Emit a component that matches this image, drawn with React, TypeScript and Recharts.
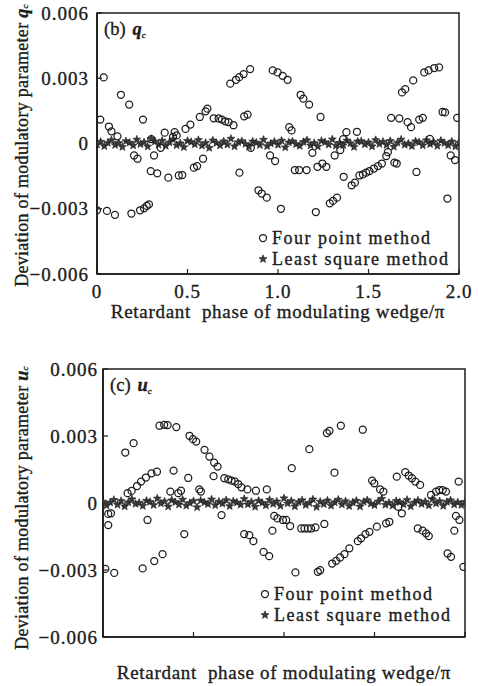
import React from "react";
import { ScatterChart, Scatter, XAxis, YAxis, ReferenceArea } from "recharts";

const FONT = '"Liberation Serif", "Times New Roman", Times, serif';
const INK = "#1c1c1c";

const xTicks = [0, 0.5, 1.0, 1.5, 2.0];
const yTicks = [-0.006, -0.003, 0, 0.003, 0.006];
const xTitle = "Retardant  phase of modulating wedge/\u03c0";
const yTitle = "Deviation of modulatory parameter ";
const legendNames = ["Four point method", "Least square method"];

// (b) q_c, four point method
const qFourX = [0.0, 0.018, 0.037, 0.055, 0.066, 0.08, 0.099, 0.113, 0.132, 0.178, 0.19, 0.205, 0.224, 0.238, 0.254, 0.26, 0.275, 0.287, 0.297, 0.3, 0.315, 0.333, 0.352, 0.374, 0.394, 0.42, 0.429, 0.44, 0.452, 0.471, 0.489, 0.516, 0.535, 0.553, 0.568, 0.586, 0.6, 0.61, 0.645, 0.672, 0.69, 0.709, 0.727, 0.736, 0.754, 0.768, 0.786, 0.787, 0.81, 0.813, 0.832, 0.846, 0.85, 0.892, 0.91, 0.938, 0.956, 0.971, 0.984, 0.998, 1.016, 1.026, 1.053, 1.062, 1.075, 1.093, 1.117, 1.125, 1.14, 1.158, 1.172, 1.19, 1.209, 1.218, 1.235, 1.245, 1.267, 1.286, 1.304, 1.313, 1.326, 1.344, 1.36, 1.363, 1.378, 1.407, 1.425, 1.436, 1.45, 1.469, 1.487, 1.505, 1.53, 1.552, 1.574, 1.598, 1.607, 1.625, 1.643, 1.656, 1.67, 1.685, 1.703, 1.716, 1.735, 1.747, 1.765, 1.78, 1.8, 1.808, 1.832, 1.839, 1.863, 1.89, 1.909, 1.923, 1.936, 1.954, 1.978, 1.99];
const qFourY = [-0.00307, 0.0011, 0.00304, -0.0031, 0.00078, 0.00056, -0.00328, 0.00033, 0.00224, 0.00179, -0.00322, -0.00055, -0.0007, -0.00307, 0.0011, -0.00298, -0.00287, -0.0028, -0.00127, 0.0002, -0.00055, -0.00137, -0.0002, 0.0005, -0.00157, 0.0003, 0.00052, 0.00037, -0.00147, -0.00145, 0.00067, 0.00087, -0.00111, -0.00104, 0.00122, -0.0007, 0.00148, 0.0016, 0.00116, 0.00115, 0.0011, 0.00102, 0.00098, 0.00275, 0.00084, 0.00293, 0.00305, -0.00134, 0.00319, 0.00125, 0.00133, 0.00342, -0.0002, -0.00215, -0.0023, -0.00249, -0.00055, 0.00336, -0.00081, 0.00327, -0.003, 0.00311, 0.00293, 0.00075, 0.0006, -0.00122, -0.00122, 0.00224, 0.00206, -0.00122, 0.00179, -0.00043, -0.00315, -0.00107, 0.00122, -0.00092, -0.00107, -0.00275, -0.00264, -0.00055, -0.00249, -0.0003, 0.0002, -0.00153, 0.00052, -0.00192, -0.0018, 0.00054, -0.00147, -0.00142, -0.00134, -0.00127, -0.00115, -0.00104, -0.00092, -0.00058, -0.0004, 0.00118, -0.00088, -0.00092, 0.00115, 0.00235, 0.0025, 0.00098, 0.00075, 0.0029, -0.00131, 0.0011, 0.00118, 0.00327, 0.00336, 0.00021, 0.00347, 0.0035, 0.00145, 0.00143, -0.00253, -0.00055, -0.00076, 0.00118];

// (c) u_c, four point method
const uFourX = [0.013, 0.029, 0.029, 0.044, 0.062, 0.123, 0.136, 0.158, 0.169, 0.188, 0.21, 0.219, 0.237, 0.246, 0.268, 0.283, 0.298, 0.312, 0.329, 0.338, 0.357, 0.372, 0.39, 0.405, 0.416, 0.431, 0.449, 0.471, 0.478, 0.497, 0.515, 0.532, 0.541, 0.561, 0.588, 0.611, 0.614, 0.633, 0.655, 0.67, 0.692, 0.71, 0.729, 0.747, 0.765, 0.78, 0.798, 0.808, 0.831, 0.845, 0.887, 0.905, 0.918, 0.936, 0.946, 0.964, 0.994, 1.012, 1.034, 1.043, 1.063, 1.095, 1.113, 1.132, 1.14, 1.15, 1.174, 1.187, 1.2, 1.223, 1.237, 1.251, 1.266, 1.279, 1.288, 1.31, 1.314, 1.334, 1.361, 1.408, 1.426, 1.435, 1.45, 1.472, 1.487, 1.499, 1.513, 1.531, 1.549, 1.564, 1.582, 1.623, 1.632, 1.651, 1.67, 1.689, 1.707, 1.726, 1.739, 1.752, 1.766, 1.785, 1.8, 1.812, 1.84, 1.858, 1.877, 1.895, 1.904, 1.923, 1.941, 1.95, 1.965, 1.969, 1.991];
const uFourY = [-0.00295, -0.00049, -0.00099, -0.00046, -0.00313, 0.00226, 0.00044, 0.00054, 0.00268, 0.00076, 0.00096, -0.00293, 0.00114, -0.00076, 0.00133, -0.0026, 0.0014, 0.00346, -0.00229, 0.0035, 0.00349, 0.00051, 0.00145, 0.0034, 0.00044, 0.00055, -0.00139, 0.00112, 0.00301, 0.00286, 0.00275, 0.00061, 0.00051, 0.00238, 0.00208, 0.0012, 0.00181, 0.00163, -0.00054, 0.00111, 0.00106, 0.001, 0.00096, 0.00085, 0.0007, -0.00139, 0.00061, -0.00144, -0.00171, 0.00055, -0.00219, 0.00061, -0.00238, -0.00124, -0.00058, -0.00069, -0.00076, -0.00076, -0.00103, 0.00156, -0.00311, -0.00114, -0.00114, -0.00114, 0.00241, -0.00114, -0.00109, -0.00308, -0.00301, -0.00094, 0.00313, 0.00323, -0.00271, 0.00136, -0.00259, -0.00244, 0.00346, -0.00229, -0.00203, -0.00171, -0.00158, 0.00328, -0.00139, -0.00129, 0.001, 0.00088, -0.00106, 0.00061, 0.00051, -0.00091, -0.00084, 0.00118, -0.00017, -0.00046, 0.00138, 0.00123, 0.00111, 0.00096, -0.00114, 0.00081, -0.00124, -0.00136, -0.00148, 0.00036, 0.00051, 0.00058, 0.00058, 0.00051, -0.00226, -0.00241, -0.00124, -0.00058, 0.00096, -0.00076, -0.00286];

// least square method, sampled phases (both panels)
const lsqX = [0, 0.02, 0.04, 0.06, 0.08, 0.1, 0.12, 0.14, 0.16, 0.18, 0.2, 0.22, 0.24, 0.26, 0.28, 0.3, 0.32, 0.34, 0.36, 0.38, 0.4, 0.42, 0.44, 0.46, 0.48, 0.5, 0.52, 0.54, 0.56, 0.58, 0.6, 0.62, 0.64, 0.66, 0.68, 0.7, 0.72, 0.74, 0.76, 0.78, 0.8, 0.82, 0.84, 0.86, 0.88, 0.9, 0.92, 0.94, 0.96, 0.98, 1.0, 1.02, 1.04, 1.06, 1.08, 1.1, 1.12, 1.14, 1.16, 1.18, 1.2, 1.22, 1.24, 1.26, 1.28, 1.3, 1.32, 1.34, 1.36, 1.38, 1.4, 1.42, 1.44, 1.46, 1.48, 1.5, 1.52, 1.54, 1.56, 1.58, 1.6, 1.62, 1.64, 1.66, 1.68, 1.7, 1.72, 1.74, 1.76, 1.78, 1.8, 1.82, 1.84, 1.86, 1.88, 1.9, 1.92, 1.94, 1.96, 1.98, 2.0];
// values in units of 1e-4
const qLsqE4 = [-0.5, 0.8, -1.2, 0.3, 1.5, -0.7, 0.2, -1.6, 1.1, 0.4, -0.9, 1.8, -0.3, 0.6, -1.4, 2.1, 0.9, -0.6, 1.3, -1.1, 0.5, 1.9, -0.8, 0.1, -1.7, 1.2, 0.7, -0.4, 1.6, -1.0, 0.3, -2.0, 1.4, 0.2, -0.9, 1.0, -0.5, 2.2, -1.3, 0.6, 1.1, -0.2, -1.5, 0.9, 0.4, -0.7, 1.7, -1.2, 0.0, 0.8, -0.6, 1.3, -1.8, 0.5, 1.0, -0.3, -1.1, 0.7, 1.5, -0.9, 0.2, -1.4, 1.2, 0.6, -0.5, 1.9, -1.0, 0.3, -0.8, 1.4, 0.1, -1.6, 0.9, 1.1, -0.4, 0.5, -1.3, 1.6, -0.2, 0.8, -0.7, 1.2, -1.5, 0.4, 1.8, -0.6, 0.0, -1.2, 1.0, 0.6, -0.9, 1.5, -0.3, 0.7, -1.1, 1.3, 0.2, -0.8, 0.9, -1.4, 0.4];
const uLsqE4 = [0.6, -1.1, 0.2, 1.4, -0.8, 0.9, -1.5, 0.3, 1.7, -0.4, 0.1, -1.3, 1.0, 0.5, -0.9, 2.0, -0.2, 0.7, -1.6, 1.2, 0.4, -0.7, 1.5, -1.2, 0.0, 0.9, -1.9, 1.1, 0.3, -0.5, 1.6, -1.0, 0.6, -0.3, 1.3, -1.4, 0.8, 0.2, -0.8, 1.8, -0.6, 0.5, -1.7, 1.0, 0.1, -1.1, 1.4, -0.4, 0.7, -1.3, 2.1, -0.2, 0.9, -1.5, 0.4, 1.2, -0.9, 0.0, 1.6, -1.8, 0.6, -0.5, 1.1, -1.2, 0.3, 1.5, -0.7, 0.8, -1.4, 0.2, 1.0, -1.6, 0.5, 1.3, -0.3, -1.0, 0.7, 1.9, -0.8, 0.1, -1.2, 0.9, 0.4, -0.6, 1.4, -1.5, 0.2, 1.1, -0.4, 0.6, -1.1, 1.7, -0.2, 0.8, -1.3, 0.5, 1.2, -0.7, 0.3, -0.9, 0.5];

const pairs = (xs: number[], ys: number[], k = 1) => xs.map((x, i) => ({ x, y: ys[i] * k }));

const fmtY = (v: number) => (v === 0 ? "0" : (v < 0 ? "\u2212" : "") + Math.abs(v).toFixed(3));
const fmtX = (v: number) => (v === 0 ? "0" : v.toFixed(1));

// a little stroke on the glyphs to get the heavy, scanned look of the original
const heavy = { stroke: INK, strokeWidth: 0.35 };

function Ring(p: any) {
  if (p.cx == null) return null;
  return <circle cx={p.cx} cy={p.cy} r={3.5} fill="none" stroke={INK} strokeWidth={1.25} />;
}

function starPath(cx: number, cy: number, R = 4.2, r = 1.8) {
  let d = "";
  for (let i = 0; i < 10; i++) {
    const a = -Math.PI / 2 + (i * Math.PI) / 5;
    const rr = i % 2 ? r : R;
    d += (i ? "L" : "M") + (cx + rr * Math.cos(a)).toFixed(2) + "," + (cy + rr * Math.sin(a)).toFixed(2);
  }
  return d + "Z";
}

function StarMark(p: any) {
  if (p.cx == null) return null;
  return <path d={starPath(p.cx, p.cy)} fill="#3a3a3a" stroke={INK} strokeWidth={0.6} />;
}

// panel tag, legend and axis titles, placed around the plot box
function Decor(props: any) {
  const { viewBox, tag, sym, legRight, legBottom, titleDy, yTitleDy } = props;
  const { x, y, width, height } = viewBox;
  const lx = x + width - legRight;
  const ly = y + height - legBottom;
  return (
    <g fontFamily={FONT} fill={INK} {...heavy}>
      <text x={x + 7} y={y + 22} fontSize={18.5}>
        ({tag})
        <tspan dx={7} fontStyle="italic" fontWeight="bold">{sym}</tspan>
        <tspan fontSize={9} fontStyle="italic" dy={3}>c</tspan>
      </text>
      <Ring cx={lx} cy={ly} />
      <text x={lx + 9} y={ly + 6} fontSize={18} letterSpacing={1.5}>{legendNames[0]}</text>
      <StarMark cx={lx} cy={ly + 21} />
      <text x={lx + 9} y={ly + 27} fontSize={18} letterSpacing={1.5}>{legendNames[1]}</text>
      <text x={x + width / 2} y={y + height + titleDy} fontSize={19} letterSpacing={0.7} textAnchor="middle" style={{ whiteSpace: "pre" }}>
        {xTitle}
      </text>
      <text transform={`translate(22, ${y + height / 2 + yTitleDy}) rotate(-90)`} fontSize={18} letterSpacing={0.3} textAnchor="middle" dominantBaseline="central">
        {yTitle}
        <tspan fontStyle="italic" fontWeight="bold">{sym}</tspan>
        <tspan fontSize={9} fontStyle="italic" dy={3}>c</tspan>
      </text>
    </g>
  );
}

type PanelProps = {
  tag: string;
  sym: string;
  four: { x: number; y: number }[];
  lsq: { x: number; y: number }[];
  height: number;
  top: number;
  right: number;
  yWidth: number;
  xHeight: number;
  yGap: number;
  xLabels: boolean;
  legRight: number;
  legBottom: number;
  titleDy: number;
  yTitleDy: number;
};

const tickFont = { fontSize: 19, fill: INK, fontFamily: FONT, letterSpacing: 1, ...heavy };

function Panel(p: PanelProps) {
  return (
    <ScatterChart width={478} height={p.height} margin={{ top: p.top, right: p.right, bottom: 0, left: 0 }}>
      <XAxis
        type="number"
        dataKey="x"
        domain={[0, 2]}
        ticks={xTicks}
        interval={0}
        allowDataOverflow
        height={p.xHeight}
        tickSize={-5}
        tickMargin={16}
        tickFormatter={p.xLabels ? fmtX : () => ""}
        tick={tickFont}
        axisLine={{ stroke: INK, strokeWidth: 1.7 }}
        tickLine={{ stroke: INK, strokeWidth: 1.2 }}
      />
      <YAxis
        type="number"
        dataKey="y"
        domain={[-0.006, 0.006]}
        ticks={yTicks}
        interval={0}
        allowDataOverflow
        width={p.yWidth}
        tickSize={-5}
        tickMargin={p.yGap + 5}
        tickFormatter={fmtY}
        tick={tickFont}
        axisLine={{ stroke: INK, strokeWidth: 1.7 }}
        tickLine={{ stroke: INK, strokeWidth: 1.2 }}
      />
      <Scatter name={legendNames[1]} data={p.lsq} shape={<StarMark />} isAnimationActive={false} />
      <Scatter name={legendNames[0]} data={p.four} shape={<Ring />} isAnimationActive={false} />
      <ReferenceArea
        x1={0}
        x2={2}
        y1={-0.006}
        y2={0.006}
        fill="none"
        stroke={INK}
        strokeWidth={1.5}
        label={
          <Decor
            tag={p.tag}
            sym={p.sym}
            legRight={p.legRight}
            legBottom={p.legBottom}
            titleDy={p.titleDy}
            yTitleDy={p.yTitleDy}
          />
        }
      />
    </ScatterChart>
  );
}

export default function App() {
  const qFour = pairs(qFourX, qFourY);
  const uFour = pairs(uFourX, uFourY);
  const qLsq = pairs(lsqX, qLsqE4, 1e-4);
  const uLsq = pairs(lsqX, uLsqE4, 1e-4);
  return (
    <div style={{ position: "absolute", left: 0, top: 0, width: 478, height: 686, background: "#fff" }}>
      <Panel
        tag="b"
        sym="q"
        four={qFour}
        lsq={qLsq}
        height={330}
        top={13}
        right={19}
        yWidth={97}
        xHeight={56}
        yGap={8}
        xLabels
        legRight={196}
        legBottom={36}
        titleDy={44}
        yTitleDy={2}
      />
      <Panel
        tag="c"
        sym="u"
        four={uFour}
        lsq={uLsq}
        height={356}
        top={39}
        right={13}
        yWidth={103}
        xHeight={49}
        yGap={5}
        xLabels={false}
        legRight={200}
        legBottom={43}
        titleDy={42}
        yTitleDy={5}
      />
    </div>
  );
}
